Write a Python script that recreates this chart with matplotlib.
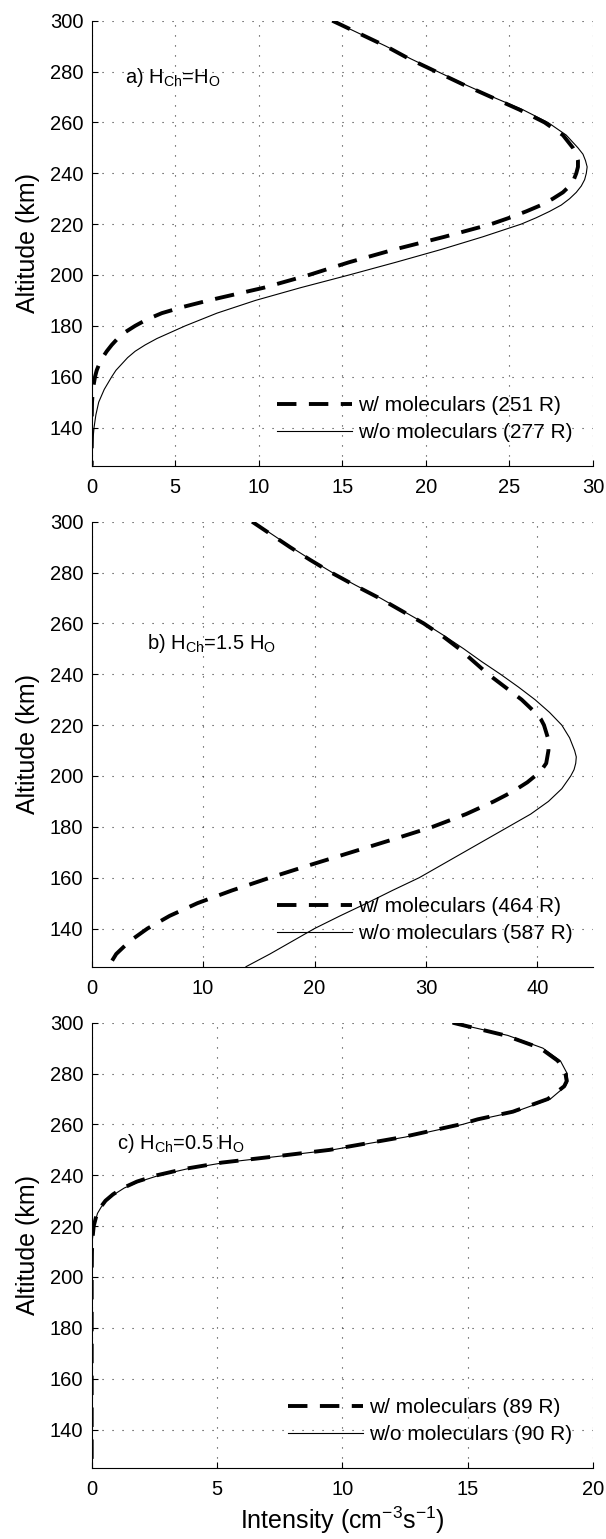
import numpy as np
import matplotlib
matplotlib.use("Agg")
import matplotlib.pyplot as plt

plt.rcParams['font.family'] = ['Liberation Sans', 'DejaVu Sans']
plt.rcParams['mathtext.fontset'] = 'custom'
plt.rcParams['mathtext.rm'] = 'Liberation Sans'
plt.rcParams['mathtext.it'] = 'Liberation Sans:italic'

# --- panel a) H_Ch = H_O ---
alt_a_with = [300, 295, 290, 285, 280, 275, 270, 265, 260, 255, 250, 247.5, 245, 242.5, 240, 237.5,
              235, 232.5, 230, 227.5, 225, 222.5, 220, 215, 210, 205, 200, 195, 190, 187.5, 185,
              182.5, 180, 177.5, 175, 172.5, 170, 167.5, 165, 162.5, 160, 155, 150, 145, 125]
int_a_with = [14.4, 16.0, 17.6, 19.0, 20.6, 22.2, 23.9, 25.6, 27.1, 28.2, 28.8, 29.0, 29.1, 29.1, 29.0, 28.85,
              28.6, 28.2, 27.6, 26.9, 26.0, 25.0, 23.9, 21.1, 18.1, 15.4, 13.0, 10.3, 7.0, 5.5, 4.2,
              3.3, 2.6, 2.0, 1.55, 1.2, 0.9, 0.65, 0.45, 0.3, 0.2, 0.07, 0.02, 0.005, 0.0]
alt_a_without = [300, 295, 290, 285, 280, 275, 270, 265, 260, 255, 250, 247.5, 245, 242.5, 240, 237.5,
                 235, 232.5, 230, 227.5, 225, 222.5, 220, 215, 210, 205, 200, 195, 190, 185, 180,
                 175, 172.5, 170, 167.5, 165, 162.5, 160, 155, 150, 145, 140, 135, 130, 125]
int_a_without = [14.4, 16.0, 17.6, 19.1, 20.7, 22.3, 24.0, 25.8, 27.3, 28.4, 29.1, 29.4, 29.55, 29.65, 29.6, 29.5,
                 29.3, 29.0, 28.6, 28.1, 27.4, 26.6, 25.7, 23.4, 20.9, 18.2, 15.4, 12.5, 9.8, 7.5, 5.6,
                 3.9, 3.2, 2.6, 2.15, 1.8, 1.45, 1.2, 0.75, 0.42, 0.25, 0.14, 0.07, 0.03, 0.01]

# --- panel b) H_Ch = 1.5 H_O ---
alt_b_with = [300, 295, 290, 285, 280, 275, 270, 265, 260, 255, 250, 245, 240, 235, 230, 225,
              222.5, 220, 215, 210, 205, 202.5, 200, 197.5, 195, 192.5, 190, 185, 180, 175, 170,
              165, 160, 155, 150, 145, 140, 135, 130, 125]
int_b_with = [14.4, 16.1, 17.8, 19.6, 21.5, 23.6, 25.8, 27.8, 29.8, 31.5, 33.0, 34.3, 35.6, 37.1, 38.6, 39.8,
              40.3, 40.6, 40.95, 41.0, 40.8, 40.4, 39.8, 39.1, 38.2, 37.2, 36.1, 33.6, 30.6, 27.0, 23.3,
              19.6, 16.0, 12.6, 9.5, 7.0, 5.0, 3.4, 2.2, 1.5]
alt_b_without = [300, 295, 290, 285, 280, 275, 270, 265, 260, 255, 250, 245, 240, 235, 230, 225,
                 220, 215, 210, 207.5, 205, 202.5, 200, 195, 190, 185, 180, 175, 170, 165, 160,
                 155, 150, 145, 140, 135, 130, 125]
int_b_without = [14.5, 16.2, 17.9, 19.7, 21.6, 23.7, 25.9, 27.9, 29.9, 31.7, 33.4, 35.0, 36.7, 38.3, 39.8, 41.1,
                 42.2, 42.9, 43.35, 43.5, 43.45, 43.3, 43.0, 42.2, 41.0, 39.4, 37.4, 35.4, 33.4, 31.4, 29.4,
                 27.0, 24.7, 22.3, 20.0, 18.0, 16.0, 13.85]

# --- panel c) H_Ch = 0.5 H_O ---
alt_c_with = [300, 295, 290, 285, 280, 277, 275, 270, 265, 262, 260, 255, 250, 247.5, 245, 242.5,
              240, 237.5, 235, 232.5, 230, 227.5, 225, 220, 215, 210, 200, 125]
int_c_with = [14.4, 16.5, 17.9, 18.6, 18.9, 18.95, 18.85, 18.2, 16.8, 15.4, 14.7, 12.4, 9.5, 7.4, 5.2, 3.7,
              2.6, 1.8, 1.25, 0.85, 0.55, 0.36, 0.21, 0.08, 0.03, 0.01, 0.0, 0.0]
alt_c_without = [300, 295, 290, 285, 280, 277, 275, 270, 265, 262, 260, 255, 250, 247.5, 245, 242.5,
                 240, 237.5, 235, 232.5, 230, 227.5, 225, 220, 215, 210, 200, 125]
int_c_without = [14.4, 16.6, 18.0, 18.7, 18.97, 19.0, 18.9, 18.3, 16.9, 15.5, 14.8, 12.5, 9.6, 7.5, 5.3, 3.8,
                 2.7, 1.9, 1.3, 0.9, 0.6, 0.38, 0.23, 0.09, 0.03, 0.01, 0.0, 0.0]

panel_texts = [r'a) H$_{\rm Ch}$=H$_{\rm O}$', r'b) H$_{\rm Ch}$=1.5 H$_{\rm O}$', r'c) H$_{\rm Ch}$=0.5 H$_{\rm O}$']
legend_with = ['w/ moleculars (251 R)', 'w/ moleculars (464 R)', 'w/ moleculars (89 R)']
legend_without = ['w/o moleculars (277 R)', 'w/o moleculars (587 R)', 'w/o moleculars (90 R)']
xmax = [30, 45, 20]
xticks = [np.arange(0, 31, 5), np.arange(0, 41, 10), np.arange(0, 21, 5)]
text_pos = [(2.0, 277.5), (5.0, 252), (1.0, 252.5)]
legend_x = [0.369, 0.369, 0.392]

data = [
    (alt_a_with, int_a_with, alt_a_without, int_a_without),
    (alt_b_with, int_b_with, alt_b_without, int_b_without),
    (alt_c_with, int_c_with, alt_c_without, int_c_without),
]

fig = plt.figure(figsize=(6.06, 15.39), dpi=100)
W, H = 606.0, 1539.0
left, right = 91.7, 593.0
tops = [20.7, 521.7, 1022.7]
ph = 445.0

for i in range(3):
    ax = fig.add_axes([left / W, 1 - (tops[i] + ph) / H, (right - left) / W, ph / H])
    aw, iw, ao, io = data[i]
    ax.plot(iw, aw, color='k', lw=2.8, dashes=(5, 3.2), label=legend_with[i])
    ax.plot(io, ao, color='k', lw=0.8, label=legend_without[i])
    ax.set_xlim(0, xmax[i])
    ax.set_ylim(125, 300)
    ax.set_xticks(xticks[i])
    ax.set_yticks(np.arange(140, 301, 20))
    ax.grid(True, color='#333333', linestyle=(0, (1, 8)), linewidth=0.8)
    ax.spines['top'].set_visible(False)
    ax.spines['right'].set_visible(False)
    ax.tick_params(direction='in', length=4, labelsize=14.5, width=0.8)
    ax.tick_params(axis='x', pad=9)
    ax.tick_params(axis='y', pad=6)
    ax.set_ylabel('Altitude (km)', fontsize=18, labelpad=7)
    ax.text(text_pos[i][0], text_pos[i][1], panel_texts[i], fontsize=14.5, va='center', ha='left')
    ax.legend(loc='center left', bbox_to_anchor=(legend_x[i], 0.105), frameon=False,
              fontsize=15, handlelength=3.6, handletextpad=0.3, borderpad=0,
              borderaxespad=0, labelspacing=0.4)

ax.set_xlabel(r'Intensity (cm$^{-3}$s$^{-1}$)', fontsize=18, labelpad=4)

fig.savefig('out.png', dpi=100)
